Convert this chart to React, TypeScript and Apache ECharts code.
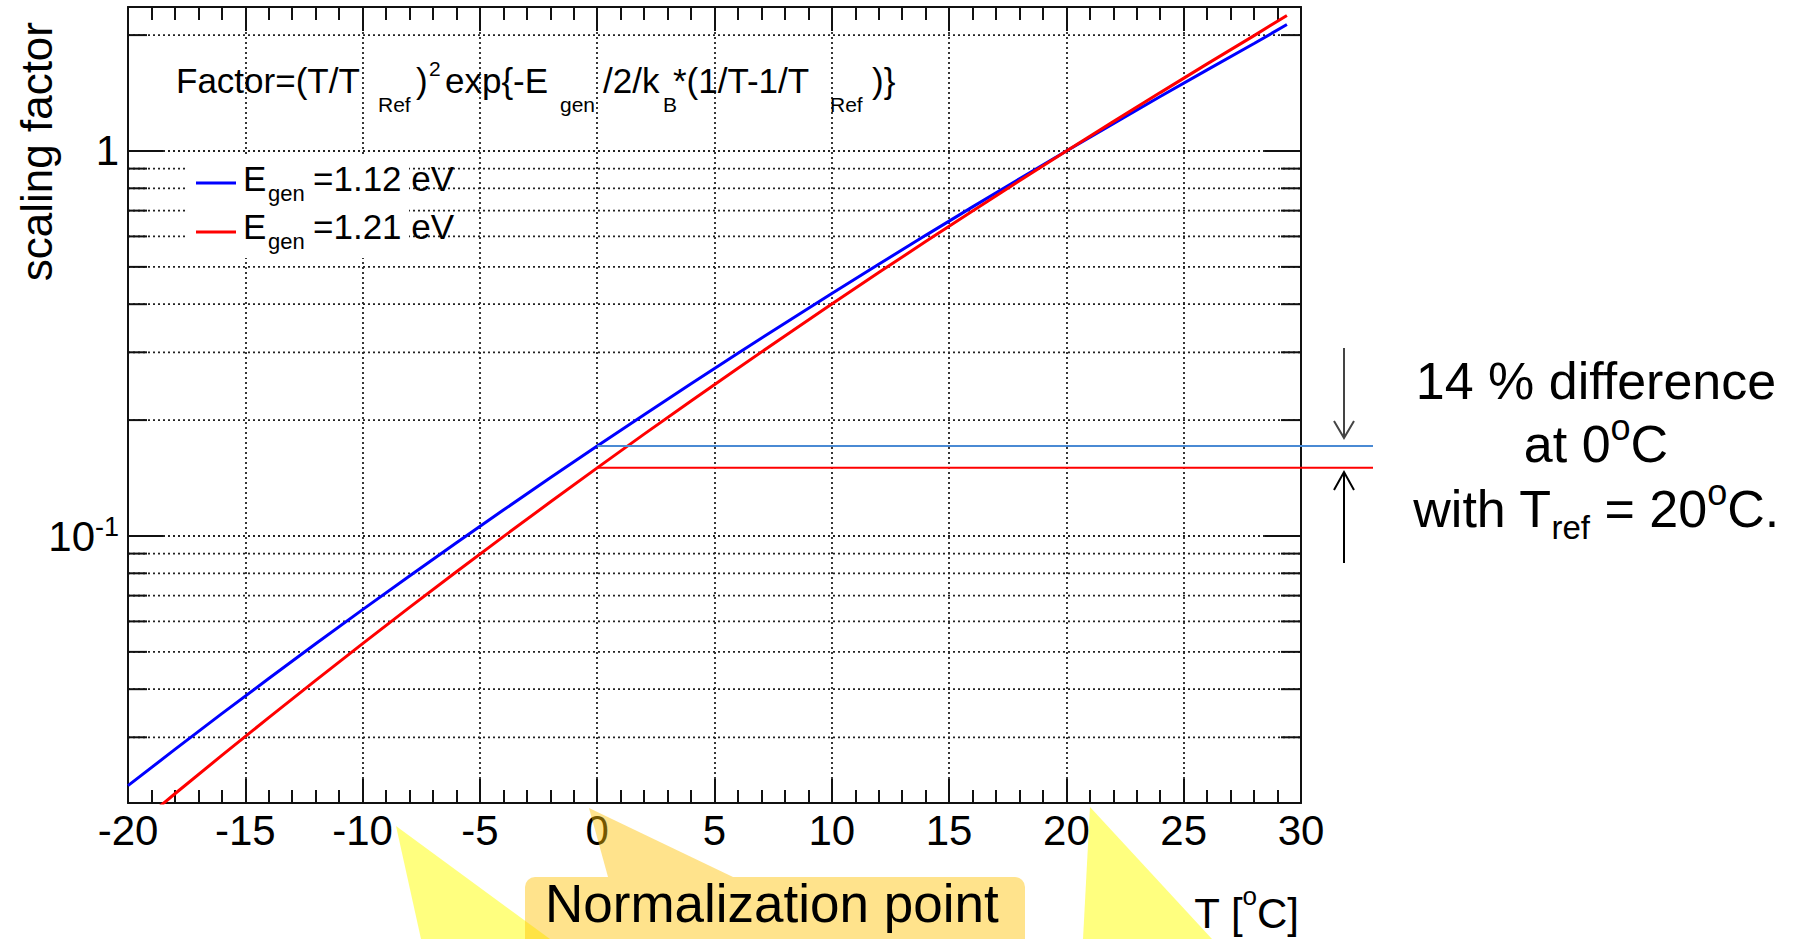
import React, { useEffect, useRef } from 'react';
import * as echarts from 'echarts';

// ---- data ----
const tempC = [-20, -18, -16, -14, -12, -10, -8, -6, -4, -2, 0, 2, 4, 6, 8, 10, 12, 14, 16, 18, 20, 22, 24, 26, 28, 29.4];
const factorE112 = [0.02246, 0.0279, 0.03455, 0.04264, 0.05247, 0.06437, 0.07871, 0.096, 0.1168, 0.1416, 0.1713, 0.2066, 0.2486, 0.2983, 0.3571, 0.4264, 0.508, 0.6038, 0.7159, 0.847, 1.0, 1.178, 1.385, 1.624, 1.902, 2.13];
const factorE121 = [0.01694, 0.0214, 0.02692, 0.03375, 0.04218, 0.05254, 0.06523, 0.08072, 0.0996, 0.1225, 0.1503, 0.1839, 0.2243, 0.2728, 0.3309, 0.4004, 0.4832, 0.5817, 0.6985, 0.8367, 1.0, 1.192, 1.418, 1.684, 1.994, 2.25];
const xMin = -20;
const xMax = 30;
const xStep = 5;
const yMin = 0.02025;
const yMax = 2.366;
const yMajorTicks = [0.1, 1];
const yMinorTicks = [0.03, 0.04, 0.05, 0.06, 0.07, 0.08, 0.09, 0.2, 0.3, 0.4, 0.5, 0.6, 0.7, 0.8, 0.9, 2];
const normTemp = 0;
const valueAtNormBlue = 0.1713;
const valueAtNormRed = 0.1503;

const FONT = "'Liberation Sans', Arial, Helvetica, sans-serif";
const BLUE = '#0000ff';
const RED = '#ff0000';
const GRID_DASH = [2, 3];

function near(a: number, b: number) {
  return Math.abs(a - b) < b * 1e-6;
}

function buildOption() {
  const axisLine = { show: true, onZero: false, lineStyle: { color: '#111', width: 2 } };
  const xTick = { show: true, inside: true, length: 24, lineStyle: { color: '#111', width: 2 } };
  const xMinor = { show: true, splitNumber: 5, length: 13, lineStyle: { color: '#111', width: 2 } };
  return {
    animation: false,
    backgroundColor: '#ffffff',
    grid: { left: 128, top: 7, width: 1173, height: 796, containLabel: false },
    xAxis: [
      {
        type: 'value', min: xMin, max: xMax, interval: xStep, position: 'bottom',
        axisLine, axisTick: xTick, minorTick: xMinor,
        axisLabel: { show: true, margin: 6, fontSize: 42, color: '#000', fontFamily: FONT },
        splitLine: { show: true, lineStyle: { type: GRID_DASH, color: '#222', width: 1.8 } },
      },
      {
        type: 'value', min: xMin, max: xMax, interval: xStep, position: 'top',
        axisLine, axisTick: xTick, minorTick: xMinor,
        axisLabel: { show: false }, splitLine: { show: false },
      },
    ],
    yAxis: [
      {
        type: 'log', logBase: 10, min: yMin, max: yMax, position: 'left',
        axisLine, axisTick: { show: false }, minorTick: { show: false }, splitLine: { show: false },
        axisLabel: {
          show: true, margin: 9, color: '#000', fontFamily: FONT, fontSize: 42,
          formatter: (v: number) => {
            if (near(v, 1)) return '{m|1}';
            if (near(v, 0.1)) return '{t|10}{s|-1}';
            return '';
          },
          rich: {
            m: { fontSize: 42, lineHeight: 42, fontFamily: FONT, color: '#000' },
            t: { fontSize: 42, lineHeight: 44, padding: [12, 0, 0, 0], verticalAlign: 'bottom', fontFamily: FONT, color: '#000' },
            s: { fontSize: 27, lineHeight: 38, verticalAlign: 'top', fontFamily: FONT, color: '#000' },
          },
        },
      },
      {
        type: 'log', logBase: 10, min: yMin, max: yMax, position: 'right',
        axisLine, axisTick: { show: false }, minorTick: { show: false }, splitLine: { show: false },
        axisLabel: { show: false },
      },
    ],
    series: [
      {
        type: 'line', name: 'Egen=1.12 eV', xAxisIndex: 0, yAxisIndex: 0,
        data: tempC.map((t, i) => [t, factorE112[i]]),
        showSymbol: false, symbol: 'none', clip: true, z: 4,
        lineStyle: { color: BLUE, width: 3 }, itemStyle: { color: BLUE },
      },
      {
        type: 'line', name: 'Egen=1.21 eV', xAxisIndex: 0, yAxisIndex: 0,
        data: tempC.map((t, i) => [t, factorE121[i]]),
        showSymbol: false, symbol: 'none', clip: true, z: 5,
        lineStyle: { color: RED, width: 3 }, itemStyle: { color: RED },
      },
    ],
  };
}

function line(x1: number, y1: number, x2: number, y2: number, stroke: string, lineWidth: number, z: number, lineDash?: number[]) {
  return {
    type: 'line', silent: true, z,
    shape: { x1, y1, x2, y2 },
    style: { stroke, lineWidth, lineDash: lineDash || null },
  };
}

function text(t: string, x: number, y: number, fontSize: number, z: number, extra: any = {}) {
  const align = extra.align || 'left';
  return {
    type: 'text', silent: true, z, x, y,
    rotation: extra.rotation || 0,
    style: {
      text: t, fontSize, fontFamily: FONT, fill: '#000',
      align, textAlign: align, verticalAlign: 'middle', textVerticalAlign: 'middle',
      rich: extra.rich,
    },
  };
}

function buildGraphics(toPx: (x: number, y: number) => number[]) {
  const els: any[] = [];
  const xl = toPx(xMin, 1)[0];
  const xr = toPx(xMax, 1)[0];
  // y grid lines and ticks through the log scale
  [...yMinorTicks, ...yMajorTicks].forEach((v) => {
    const py = toPx(xMin, v)[1];
    els.push(line(xl, py, xr, py, '#222', 1.8, 1, GRID_DASH));
  });
  yMinorTicks.forEach((v) => {
    const py = toPx(xMin, v)[1];
    els.push(line(xl, py, xl + 19, py, '#111', 2, 3));
    els.push(line(xr - 20, py, xr, py, '#111', 2, 3));
  });
  yMajorTicks.forEach((v) => {
    const py = toPx(xMin, v)[1];
    els.push(line(xl, py, xl + 35, py, '#111', 2, 3));
    els.push(line(xr - 36, py, xr, py, '#111', 2, 3));
  });

  // formula
  const fm = 35, fs = 21;
  const yMain = 80.5, ySub = 104;
  els.push(text('Factor=(T/T', 176, yMain, fm, 6));
  els.push(text('Ref', 378, ySub, fs, 6));
  els.push(text(')', 416, yMain, fm, 6));
  els.push(text('2', 429, 68, 21, 6));
  els.push(text('exp{-E', 445, yMain, fm, 6));
  els.push(text('gen', 560, ySub, fs, 6));
  els.push(text('/2/k', 603, yMain, fm, 6));
  els.push(text('B', 663, ySub, fs, 6));
  els.push(text('*(1/T-1/T', 673, yMain, fm, 6));
  els.push(text('Ref', 830, ySub, fs, 6));
  els.push(text(')}', 872, yMain, fm, 6));

  // legend
  els.push({ type: 'rect', silent: true, z: 5, shape: { x: 186, y: 157, width: 223, height: 101 }, style: { fill: '#ffffff' } });
  els.push(line(196, 183, 236, 183, BLUE, 3, 6));
  els.push(line(196, 232, 236, 232, RED, 3, 6));
  els.push(text('E', 243, 178.5, fm, 6));
  els.push(text('gen', 268, 193, 22, 6));
  els.push(text('=1.12 eV', 313, 178.5, fm, 6));
  els.push(text('E', 243, 226, fm, 6));
  els.push(text('gen', 268, 241, 22, 6));
  els.push(text('=1.21 eV', 313, 226, fm, 6));

  // axis titles
  els.push(text('scaling factor', 36, 22, 44, 6, { align: 'right', rotation: Math.PI / 2 }));
  els.push(text('{m|T [}{s|o}{m|C]}', 1299, 913, 42, 6, {
    align: 'right',
    rich: {
      m: { fontSize: 42, lineHeight: 60, fontFamily: FONT, fill: '#000', color: '#000' },
      s: { fontSize: 26, lineHeight: 30, verticalAlign: 'top', fontFamily: FONT, fill: '#000', color: '#000' },
    },
  }));

  // difference lines at normalization temperature 0
  const pB = toPx(normTemp, valueAtNormBlue);
  const pR = toPx(normTemp, valueAtNormRed);
  els.push(line(pB[0], pB[1], 1373, pB[1], '#4a8ad4', 2, 10));
  els.push(line(pR[0], pR[1], 1373, pR[1], RED, 2, 10));

  // arrows
  els.push(line(1344, 348, 1344, 437, '#444', 2, 10));
  els.push({ type: 'polyline', silent: true, z: 10, shape: { points: [[1334, 421], [1344, 438], [1354, 421]] }, style: { stroke: '#444', lineWidth: 2, fill: null } });
  els.push(line(1344, 473, 1344, 563, '#000', 2, 10));
  els.push({ type: 'polyline', silent: true, z: 10, shape: { points: [[1334, 490], [1344, 472], [1354, 490]] }, style: { stroke: '#000', lineWidth: 2, fill: null } });

  // right-hand annotation text
  els.push(text('14 % difference', 1596, 381.4, 52, 10, { align: 'center' }));
  els.push(text('{m|at 0}{s|o}{m|C}', 1596, 444.4, 52, 10, {
    align: 'center',
    rich: {
      m: { fontSize: 52, lineHeight: 70, fontFamily: FONT, fill: '#000', color: '#000' },
      s: { fontSize: 36, lineHeight: 48, verticalAlign: 'top', fontFamily: FONT, fill: '#000', color: '#000' },
    },
  }));
  els.push(text('{m|with T}{b|ref}{m| = 20}{s|o}{m|C.}', 1596, 509.4, 52, 10, {
    align: 'center',
    rich: {
      m: { fontSize: 52, lineHeight: 70, fontFamily: FONT, fill: '#000', color: '#000' },
      b: { fontSize: 33, lineHeight: 34.4, verticalAlign: 'bottom', fontFamily: FONT, fill: '#000', color: '#000' },
      s: { fontSize: 36, lineHeight: 48, verticalAlign: 'top', fontFamily: FONT, fill: '#000', color: '#000' },
    },
  }));

  // callouts
  const yellow = 'rgba(255,255,0,0.5)';
  const orange = 'rgba(255,192,0,0.45)';
  els.push({ type: 'polygon', silent: true, z: 40, shape: { points: [[396, 826], [421, 939], [550, 939]] }, style: { fill: yellow } });
  els.push({ type: 'polygon', silent: true, z: 40, shape: { points: [[1090, 807], [1083, 939], [1212, 939]] }, style: { fill: yellow } });
  els.push({ type: 'polygon', silent: true, z: 41, shape: { points: [[589, 808], [608, 877], [733, 877]] }, style: { fill: orange } });
  els.push({ type: 'rect', silent: true, z: 41, shape: { x: 525, y: 877, width: 500, height: 90, r: 10 }, style: { fill: orange } });
  els.push(text('Normalization point', 545, 903.5, 53, 42));

  return els;
}

export default function App() {
  const ref = useRef<HTMLDivElement>(null);
  useEffect(() => {
    if (!ref.current) return;
    const chart = echarts.init(ref.current, null, { renderer: 'svg' });
    chart.setOption(buildOption() as any);
    const toPx = (x: number, y: number) => chart.convertToPixel({ gridIndex: 0 }, [x, y]) as unknown as number[];
    chart.setOption({ graphic: buildGraphics(toPx) } as any);
    return () => chart.dispose();
  }, []);
  return (
    <div
      ref={ref}
      style={{ position: 'fixed', left: 0, top: 0, width: 1794, height: 939, background: '#fff' }}
    />
  );
}
